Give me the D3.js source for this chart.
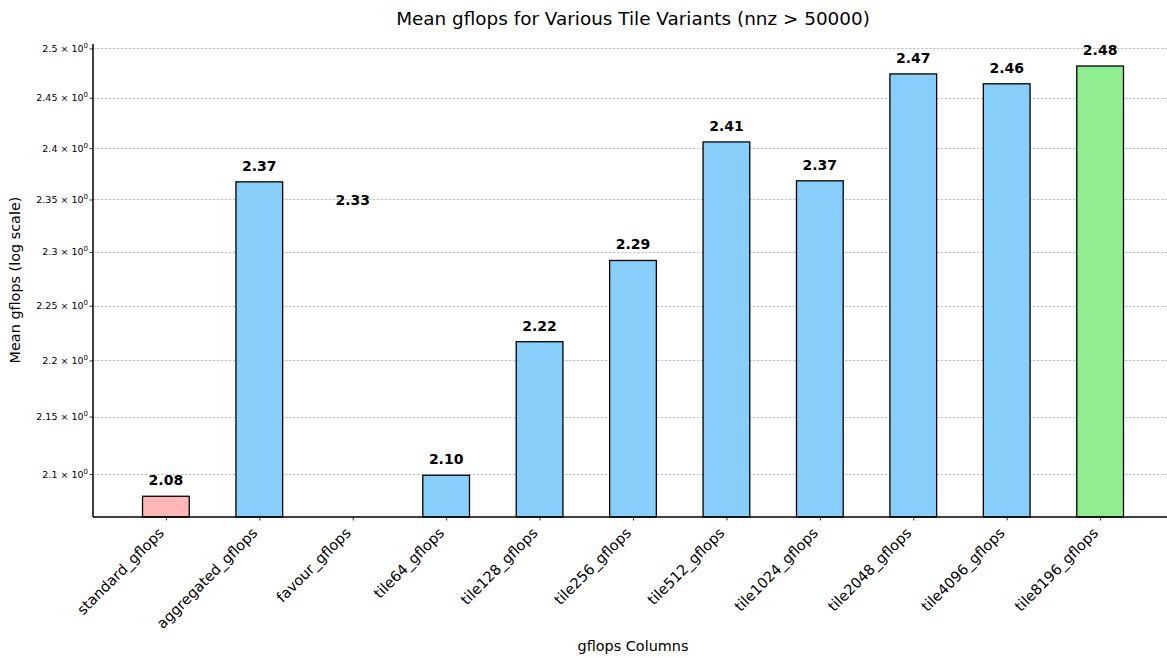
<!DOCTYPE html>
<html>
<head>
<meta charset="utf-8">
<script src="https://cdn.jsdelivr.net/npm/d3@7"></script>
<style>
  html, body { margin: 0; padding: 0; background: #fff; }
  svg { display: block; font-family: "DejaVu Sans", sans-serif; }
</style>
</head>
<body>
<svg id="chart" width="1167" height="657"></svg>
<script>
// Mean gflops per column, nnz > 50000
const categories = [
  "standard_gflops", "aggregated_gflops", "favour_gflops", "tile64_gflops",
  "tile128_gflops", "tile256_gflops", "tile512_gflops", "tile1024_gflops",
  "tile2048_gflops", "tile4096_gflops", "tile8196_gflops"
];
const meanGflops = [2.081, 2.367, 2.334, 2.099, 2.217, 2.292, 2.406, 2.368, 2.474, 2.464, 2.482];
const yTicks = [2.1, 2.15, 2.2, 2.25, 2.3, 2.35, 2.4, 2.45, 2.5];
const yTickLabels = ["2.1", "2.15", "2.2", "2.25", "2.3", "2.35", "2.4", "2.45", "2.5"];

// fill per bar: baseline pink, best green, the rest blue
function barFill(name) {
  if (name === "standard_gflops") return "#ffb6b6";
  if (name === "tile8196_gflops") return "#90ee90";
  return "#87cefa";
}
// the favour bar is left transparent; only its value label shows
const hidden = new Set(["favour_gflops"]);

const svg = d3.select("#chart");
const plot = { left: 93, right: 1173, top: 44, bottom: 517 };

const x = d3.scaleLinear()
  .domain([-0.78, categories.length - 1 + 0.78])
  .range([plot.left, plot.right]);
const step = x(1) - x(0);
const barW = step * 0.5;

const y = d3.scaleLog()
  .domain([2.0634, 2.5045])
  .range([plot.bottom, plot.top]);

// horizontal grid
svg.append("g")
  .selectAll("line")
  .data(yTicks)
  .join("line")
  .attr("x1", plot.left)
  .attr("x2", 1167)
  .attr("y1", d => Math.round(y(d)) + 0.5)
  .attr("y2", d => Math.round(y(d)) + 0.5)
  .attr("stroke", "#b0b0b0")
  .attr("stroke-width", 0.8)
  .attr("stroke-dasharray", "2.5,1.5");

const rows = categories.map((c, i) => ({ c, i, v: meanGflops[i] }));

// bars
svg.append("g")
  .selectAll("rect")
  .data(rows)
  .join("rect")
  .attr("x", d => x(d.i) - barW / 2)
  .attr("width", barW)
  .attr("y", d => y(d.v))
  .attr("height", d => plot.bottom - y(d.v))
  .attr("fill", d => barFill(d.c))
  .attr("fill-opacity", d => hidden.has(d.c) ? 0 : 1)
  .attr("stroke", d => hidden.has(d.c) ? "none" : "#000")
  .attr("stroke-width", 1.3);

// value labels
svg.append("g")
  .selectAll("text")
  .data(rows)
  .join("text")
  .attr("x", d => x(d.i))
  .attr("y", d => y(d.v) - 11)
  .attr("text-anchor", "middle")
  .attr("font-size", 14)
  .attr("font-weight", "bold")
  .attr("fill", "#000")
  .text(d => d.v.toFixed(2));

// y axis
const yg = svg.append("g")
  .attr("transform", `translate(${plot.left},0)`)
  .call(d3.axisLeft(y)
    .tickValues(yTicks)
    .tickSize(3.5)
    .tickFormat(() => ""));
yg.select(".domain").remove();
yg.selectAll(".tick line").attr("stroke", "#000").attr("stroke-width", 0.8);

const yLab = svg.append("g")
  .selectAll("text")
  .data(yTicks.map((t, i) => ({ t, s: yTickLabels[i] })))
  .join("text")
  .attr("x", plot.left - 5)
  .attr("y", d => y(d.t) + 3.5)
  .attr("text-anchor", "end")
  .attr("font-size", 9.5)
  .attr("fill", "#000");
yLab.append("tspan").text(d => d.s + " × 10");
yLab.append("tspan")
  .attr("dy", -4)
  .attr("font-size", 7)
  .text("0");

// x axis
const xg = svg.append("g")
  .attr("transform", `translate(0,${plot.bottom})`)
  .call(d3.axisBottom(x)
    .tickValues(d3.range(categories.length))
    .tickSize(3.5)
    .tickFormat(""));
xg.select(".domain").remove();
xg.selectAll(".tick line").attr("stroke", "#000").attr("stroke-width", 0.8);

svg.append("g")
  .selectAll("text")
  .data(categories)
  .join("text")
  .attr("text-anchor", "end")
  .attr("font-size", 14.5)
  .attr("fill", "#000")
  .attr("transform", (d, i) => `translate(${x(i) - 1},${plot.bottom + 17}) rotate(-45)`)
  .text(d => d);

// spines (left and bottom)
svg.append("line")
  .attr("x1", plot.left).attr("x2", plot.left)
  .attr("y1", plot.top).attr("y2", plot.bottom)
  .attr("stroke", "#000").attr("stroke-width", 1.5);
svg.append("line")
  .attr("x1", plot.left).attr("x2", 1167)
  .attr("y1", plot.bottom).attr("y2", plot.bottom)
  .attr("stroke", "#000").attr("stroke-width", 1.5);

// titles
svg.append("text")
  .attr("x", 633).attr("y", 24.5)
  .attr("text-anchor", "middle")
  .attr("font-size", 18.4)
  .attr("fill", "#000")
  .text("Mean gflops for Various Tile Variants (nnz > 50000)");

svg.append("text")
  .attr("x", 633).attr("y", 651)
  .attr("text-anchor", "middle")
  .attr("font-size", 14.4)
  .attr("fill", "#000")
  .text("gflops Columns");

svg.append("text")
  .attr("transform", "translate(20,280) rotate(-90)")
  .attr("text-anchor", "middle")
  .attr("font-size", 14.4)
  .attr("fill", "#000")
  .text("Mean gflops (log scale)");
</script>
</body>
</html>
